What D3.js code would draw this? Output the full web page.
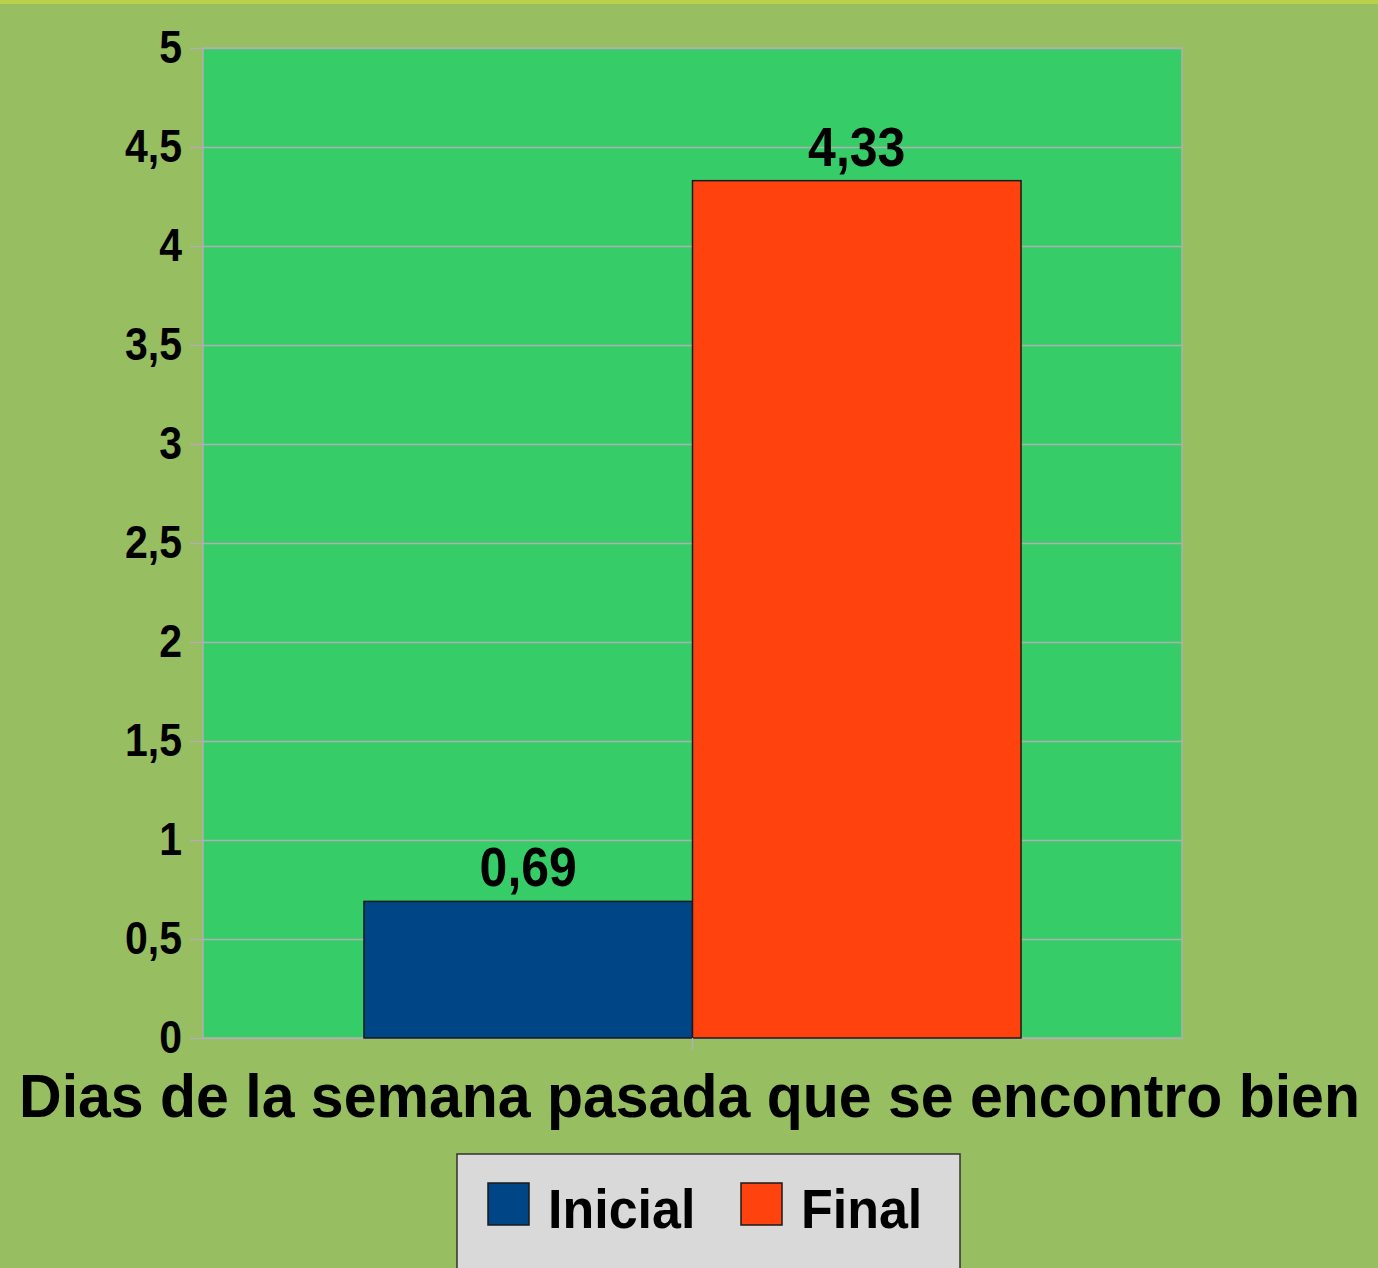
<!DOCTYPE html>
<html>
<head>
<meta charset="utf-8">
<script src="https://cdn.jsdelivr.net/npm/d3@7"></script>
<style>
  html, body { margin: 0; padding: 0; background: #97be61; }
  svg { display: block; }
  text { font-family: "Liberation Sans", Arial, sans-serif; font-weight: bold; fill: #000; }
</style>
</head>
<body>
<div id="chart"></div>
<script>
// chart data
const categories = ["Dias de la semana pasada que se encontro bien"];
const seriesNames = ["Inicial", "Final"];
const seriesValues = [0.69, 4.33];
const seriesColors = ["#004586", "#ff420e"];
const yTicks = [0, 0.5, 1, 1.5, 2, 2.5, 3, 3.5, 4, 4.5, 5];

const width = 1378, height = 1268;
const margin = { top: 48, right: 196, bottom: 230, left: 203 };
const plotW = width - margin.left - margin.right;
const plotH = height - margin.top - margin.bottom;

const fmt = v => String(v).replace(".", ",");

// text in the picture is a bit taller than wide
function stretch(sel, x, y, sy) {
    sel.attr("x", 0).attr("y", 0)
        .attr("transform", `translate(${x},${y}) scale(1,${sy})`);
}

const svg = d3.select("#chart").append("svg")
    .attr("width", width)
    .attr("height", height);

// top strip
svg.append("rect")
    .attr("x", 0).attr("y", 0)
    .attr("width", width).attr("height", 4)
    .attr("fill", "#b9d24a");

const g = svg.append("g")
    .attr("transform", `translate(${margin.left},${margin.top})`);

const x = d3.scaleBand()
    .domain(categories)
    .range([0, plotW])
    .paddingInner(0)
    .paddingOuter(0.245);

const xSeries = d3.scaleBand()
    .domain(seriesNames)
    .range([0, x.bandwidth()])
    .padding(0);

const y = d3.scaleLinear()
    .domain([0, 5])
    .range([plotH, 0]);

// plot area
g.append("rect")
    .attr("width", plotW)
    .attr("height", plotH)
    .attr("fill", "#36cc68")
    .attr("stroke", "#b0b0b0")
    .attr("stroke-width", 1.5);

// gridlines + outer ticks
const yAxis = g.append("g")
    .call(d3.axisLeft(y).tickValues(yTicks).tickSizeInner(-plotW).tickSizeOuter(0).tickPadding(0).tickFormat(""));
yAxis.select(".domain").remove();
yAxis.selectAll(".tick line").attr("stroke", "#b0b0b0").attr("stroke-width", 1.5).attr("x1", -13);

// y tick labels
g.selectAll(".ylabel")
    .data(yTicks)
    .enter()
    .append("text")
    .attr("class", "ylabel")
    .attr("text-anchor", "end")
    .style("font-size", "41px")
    .text(d => fmt(d))
    .each(function(d) { stretch(d3.select(this), -21, y(d) + 15, 1.12); });

// bars
const cat = g.append("g")
    .attr("transform", `translate(${x(categories[0])},0)`);

cat.selectAll(".bar")
    .data(seriesValues)
    .enter()
    .append("rect")
    .attr("class", "bar")
    .attr("x", (d, i) => xSeries(seriesNames[i]))
    .attr("y", d => y(d))
    .attr("width", xSeries.bandwidth())
    .attr("height", d => plotH - y(d))
    .attr("fill", (d, i) => seriesColors[i])
    .attr("stroke", "#1a1a1a")
    .attr("stroke-width", 1.5);

// value labels
cat.selectAll(".vlabel")
    .data(seriesValues)
    .enter()
    .append("text")
    .attr("class", "vlabel")
    .attr("text-anchor", "middle")
    .style("font-size", "50px")
    .text(d => fmt(d))
    .each(function(d, i) {
        stretch(d3.select(this), xSeries(seriesNames[i]) + xSeries.bandwidth() / 2, y(d) - 15, 1.12);
    });

// x axis tick
const xAxis = g.append("g")
    .attr("transform", `translate(0,${plotH})`)
    .call(d3.axisBottom(x).tickSizeInner(12).tickSizeOuter(0).tickFormat(""));
xAxis.select(".domain").remove();
xAxis.selectAll(".tick line").attr("stroke", "#b0b0b0").attr("stroke-width", 1.5);

// category label
g.selectAll(".xlabel")
    .data(categories)
    .enter()
    .append("text")
    .attr("class", "xlabel")
    .attr("text-anchor", "middle")
    .style("font-size", "59px")
    .text(d => d)
    .each(function(d) { stretch(d3.select(this), x(d) + x.bandwidth() / 2 - 3, plotH + 79, 1.05); });

// legend
const legend = svg.append("g");
legend.append("rect")
    .attr("x", 457).attr("y", 1154)
    .attr("width", 503).attr("height", 130)
    .attr("fill", "#d9d9d9")
    .attr("stroke", "#333")
    .attr("stroke-width", 1.5);

const legendX = [488, 741];
seriesNames.forEach((name, i) => {
    legend.append("rect")
        .attr("x", legendX[i]).attr("y", 1183)
        .attr("width", 41).attr("height", 42)
        .attr("fill", seriesColors[i])
        .attr("stroke", "#1a1a1a")
        .attr("stroke-width", 1.5);
    legend.append("text")
        .style("font-size", "52px")
        .text(name)
        .call(s => stretch(s, legendX[i] + 60, 1228, 1.08));
});
</script>
</body>
</html>
